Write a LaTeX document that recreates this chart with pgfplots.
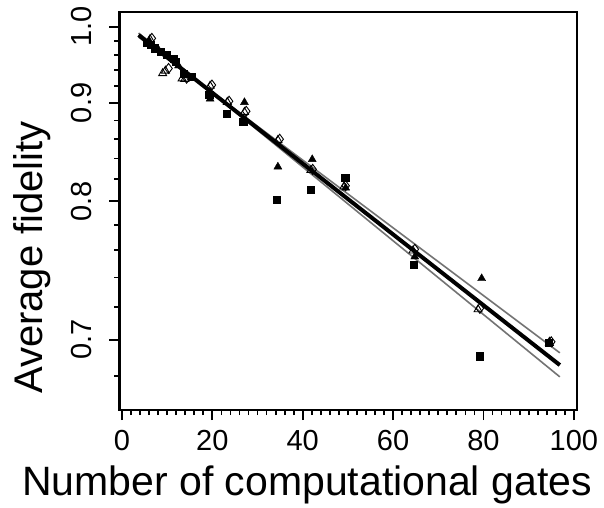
\documentclass[border=0pt]{standalone}
\usepackage{pgfplots}
\pgfplotsset{compat=1.18}
\usepackage{fontspec}
\setmainfont{Liberation Sans}
\definecolor{bandgray}{gray}{0.45}
\begin{document}
\begin{tikzpicture}
\begin{axis}[
    scale only axis,
    width=457.7pt, height=398pt,
    xmin=-0.6, xmax=100.7,
    ymin=0.6628, ymax=1.022,
    % fidelity axis: straight lines for F = 1/2 + 1/2 p^n
    y coord trafo/.code={\pgfmathparse{ln(2*#1-1)}},
    y coord inv trafo/.code={\pgfmathparse{(exp(#1)+1)/2}},
    axis line style={line width=2.7pt},
    tick align=outside,
    xtick pos=bottom, ytick pos=left,
    major tick length=10pt, minor tick length=5pt,
    every tick/.style={black, line width=1.8pt},
    xtick={0,20,40,60,80,100},
    xticklabels={0,20,40,60,80,100},
    minor x tick num=9,
    ytick={0.7,0.8,0.9,1.0},
    yticklabels={0.7,0.8,0.9,1.0},
    minor ytick={0.68,0.72,0.74,0.76,0.78,0.82,0.84,0.86,0.88,0.92,0.94,0.96,0.98},
    xticklabel style={font=\fontsize{29}{29}\selectfont, anchor=north, inner sep=0pt},
    xticklabel shift=10pt,
    yticklabel style={font=\fontsize{29}{29}\selectfont, rotate=90, anchor=base, inner sep=0pt},
    yticklabel shift=18pt,
    xlabel={Number of computational gates},
    ylabel={Average fidelity},
    label style={font=\fontsize{41}{41}\selectfont},
    xlabel style={at={(axis description cs:0.410,-0.216)}, anchor=base},
    ylabel style={font=\fontsize{40}{40}\selectfont, at={(axis description cs:-0.1667,0.383)}, anchor=base},
    clip=false,
]
% fitted decay and its band
\addplot[bandgray, line width=1.6pt] coordinates {(3.67,0.98503) (96.9,0.6925)};
\addplot[bandgray, line width=1.6pt] coordinates {(3.67,0.99079) (96.9,0.6794)};
\addplot[black, line width=4pt] coordinates {(3.67,0.9880) (96.9,0.6857)};

% filled squares
\addplot[only marks, mark=square*, mark size=3.6pt, black] coordinates {
 (5.5,0.9770) (6.3,0.9739) (7.2,0.9694) (8.5,0.9647) (9.9,0.9602)
 (11.4,0.9550) (11.8,0.9513) (13.6,0.9360) (15.5,0.9320) (19.3,0.9100)
 (23.1,0.8880) (26.8,0.8786) (34.3,0.8016) (41.8,0.8100) (49.4,0.8217)
 (64.5,0.7489) (79.2,0.6906) (94.4,0.6982)
};
% filled triangles
\addplot[only marks, mark=triangle*, mark size=4.6pt, black] coordinates {
 (6.0,0.9800) (8.0,0.9680) (12.5,0.9460) (19.5,0.9048) (27.1,0.9007)
 (34.5,0.8318) (42.1,0.8391) (49.5,0.8120) (64.8,0.7550) (79.6,0.7393)
 (94.6,0.6990)
};
% open triangles
\addplot[only marks, mark=triangle, mark size=4.6pt, black, line width=0.9pt] coordinates {
 (6.2,0.9820) (9.0,0.9362) (9.6,0.9395) (13.3,0.9295) (13.9,0.9290)
 (19.5,0.9205) (23.3,0.9010) (27.1,0.8895) (34.5,0.8588) (41.8,0.8285)
 (49.1,0.8130) (64.4,0.7595) (78.8,0.7185) (94.6,0.6980)
};
% open diamonds
\addplot[only marks, mark=diamond, mark size=5pt, black, line width=0.9pt] coordinates {
 (6.6,0.9833) (10.3,0.9425) (14.3,0.9300) (19.9,0.9215) (23.7,0.9020)
 (27.5,0.8904) (34.9,0.8597) (42.2,0.8293) (49.5,0.8139) (64.8,0.7606)
 (79.2,0.7192) (95.0,0.6988)
};
\end{axis}
\path (current axis.south west) ++(-119.3pt,-94pt) rectangle ++(604pt,504pt);
\end{tikzpicture}
\end{document}
